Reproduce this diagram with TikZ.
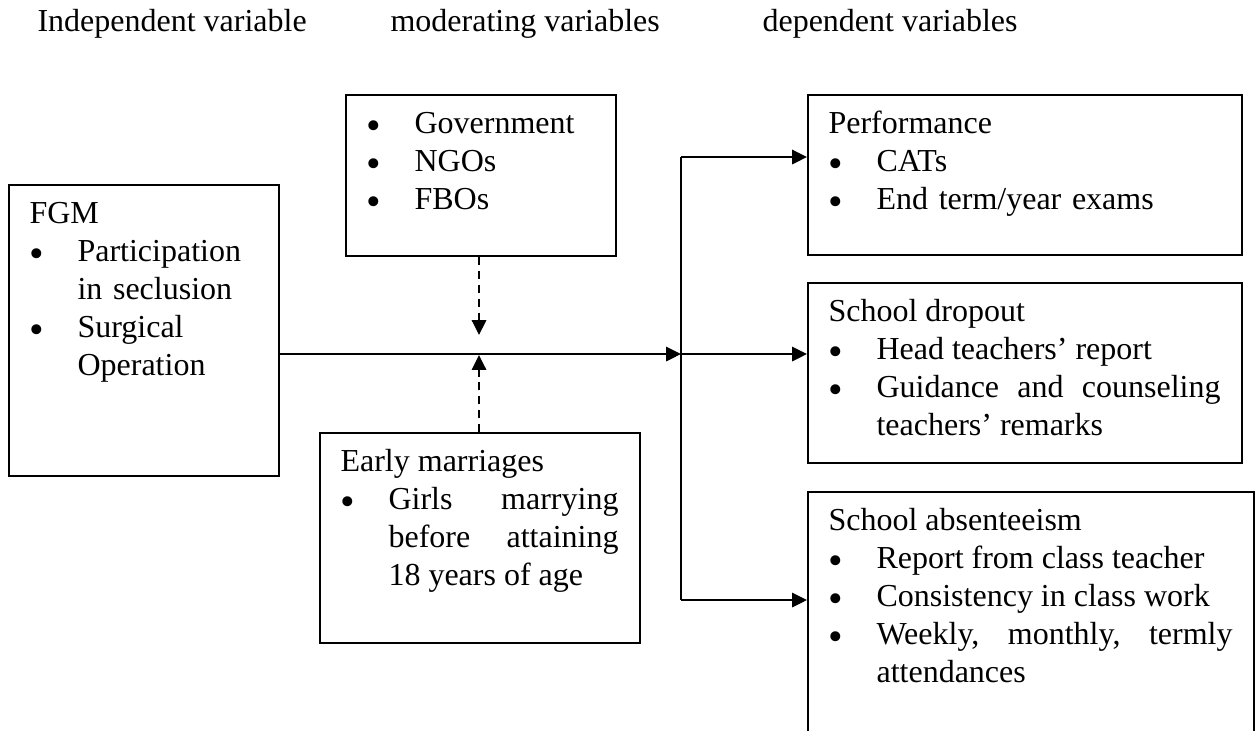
\documentclass[tikz,border=0pt]{standalone}
\usepackage{fontspec}
\setmainfont{Liberation Serif}
\usetikzlibrary{arrows.meta}
\newcommand{\bigbul}{\makebox[18pt][l]{\raisebox{-2.4pt}{\fontsize{15.6}{14}\selectfont\textbullet}}}
\newcommand{\bul}{\par\noindent\hangindent=18pt\hangafter=1\bigbul}
\tikzset{
  boxed/.style={draw, line width=0.75pt, rectangle, inner sep=0pt, anchor=north west},
  txt/.style={inner sep=0pt, anchor=north west, font=\fontsize{12}{14.2}\selectfont},
  hdr/.style={inner sep=0pt, anchor=base west, font=\fontsize{12}{14.2}\selectfont},
  arr/.style={line width=0.75pt, -{Triangle[length=5.6pt,width=5.4pt]}},
  dasharr/.style={line width=0.75pt, dash pattern=on 3pt off 2.2pt, -{Triangle[length=5.6pt,width=5.4pt]}}
}
\begin{document}
\begin{tikzpicture}[x=0.375pt, y=-0.375pt]
\useasboundingbox (0,0) rectangle (1257,730);
% headers
\node[hdr] (h1) at (37,31) {Independent variable};
\node[hdr] (h2) at (390,31) {moderating variables};
\node[hdr] (h3) at (762,31) {dependent variables};
% boxes
\node[boxed, minimum width=101.25pt, minimum height=109.1pt] (fgm) at (8,184) {};
\node[txt, text width=85.5pt, align=left] (fgmt) at (29,196.5) {\strut FGM
\bul Participation\newline in seclusion
\bul Surgical\newline Operation\par};
\node[boxed, minimum width=101.25pt, minimum height=60.4pt] (gov) at (345,94) {};
\node[txt, text width=85.5pt, align=left] (govt) at (366,106.5) {\strut\bigbul Government
\bul NGOs
\bul FBOs\par};
\node[boxed, minimum width=120pt, minimum height=78.75pt] (early) at (319,432) {};
\node[txt, text width=104.25pt, align=justify] (earlyt) at (340,444.5) {\strut Early marriages
\bul Girls marrying\linebreak before attaining\linebreak 18 years of age\par};
\node[boxed, minimum width=162.75pt, minimum height=60pt] (perf) at (807,94) {};
\node[txt, text width=147pt, align=left] (perft) at (828,106.5) {\strut Performance
\bul CATs
\bul End term/year exams\par};
\node[boxed, minimum width=162.75pt, minimum height=67.5pt] (drop) at (807,282) {};
\node[txt, text width=147pt, align=justify] (dropt) at (828,294.5) {\strut School dropout
\bul Head teachers’ report
\bul Guidance and counseling\linebreak teachers’ remarks\par};
\node[boxed, minimum width=167.25pt, minimum height=100.9pt] (abs) at (807,491) {};
\node[txt, text width=151.5pt, align=justify] (abst) at (828,503.5) {\strut School absenteeism
\bul Report from class teacher
\bul Consistency in class work
\bul Weekly, monthly, termly\linebreak attendances\par};
% connectors
\coordinate (j) at (681,354);
\coordinate (jt) at (681,157);
\coordinate (jb) at (681,600);
\coordinate (mt) at (479,335);
\coordinate (mb) at (479,355);
\draw[arr] (fgm.east |- j) -- (j);
\draw[line width=0.75pt] (jt) -- (jb);
\draw[arr] (jt) -- (perf.west |- jt);
\draw[arr] (j) -- (drop.west |- j);
\draw[arr] (jb) -- (abs.west |- jb);
\draw[dasharr] (gov.south -| mt) -- (mt);
\draw[dasharr] (early.north -| mb) -- (mb);
\end{tikzpicture}
\end{document}
